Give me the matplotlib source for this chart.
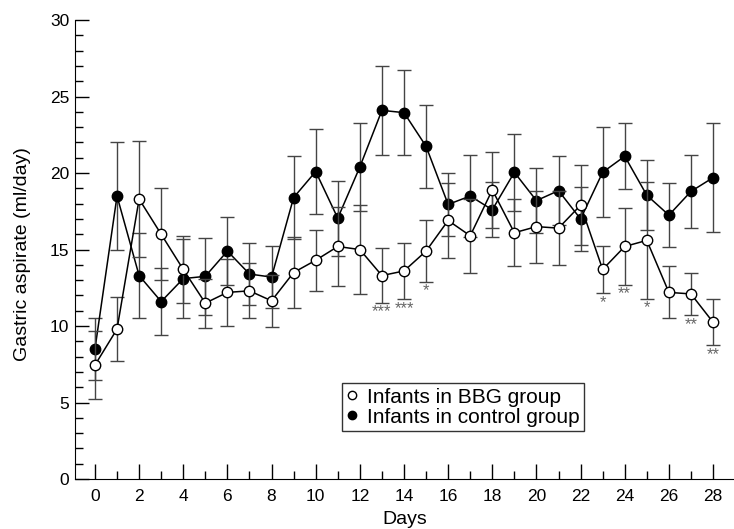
import matplotlib
matplotlib.use("Agg")
import matplotlib.pyplot as plt
from matplotlib.lines import Line2D
from matplotlib.ticker import MultipleLocator

plt.rcParams["font.family"] = ["Liberation Sans", "DejaVu Sans"]

days = list(range(29))

# Infants in BBG group (open circles): mean and SEM
bbg = [7.45, 9.8, 18.3, 16.0, 13.7, 11.5, 12.2, 12.3, 11.65, 13.5, 14.3, 15.2,
       15.0, 13.3, 13.6, 14.9, 16.9, 15.9, 18.9, 16.1, 16.5, 16.4, 17.9, 13.7,
       15.2, 15.6, 12.2, 12.1, 10.25]
bbg_err = [2.2, 2.1, 3.8, 3.0, 2.2, 1.6, 2.2, 1.8, 1.7, 2.3, 2.0, 2.6, 2.9,
           1.8, 1.85, 2.0, 2.45, 2.4, 2.5, 2.2, 2.35, 2.4, 2.6, 1.55, 2.5,
           3.8, 1.7, 1.4, 1.5]

# Infants in control group (filled circles)
ctrl = [8.5, 18.5, 13.3, 11.6, 13.1, 13.25, 14.9, 13.4, 13.2, 18.4, 20.1, 17.05,
        20.4, 24.1, 23.95, 21.75, 17.95, 18.5, 17.6, 20.05, 18.2, 18.85, 17.0,
        20.05, 21.1, 18.55, 17.25, 18.8, 19.7]
ctrl_err = [2.0, 3.55, 2.8, 2.2, 2.6, 2.5, 2.2, 2.0, 2.0, 2.7, 2.75, 2.45, 2.9,
            2.9, 2.8, 2.7, 2.05, 2.7, 1.8, 2.5, 2.1, 2.25, 2.1, 2.95, 2.15,
            2.3, 2.1, 2.4, 3.55]

# significance marks under the BBG error bars
star_days = [13, 14, 15, 23, 24, 25, 27, 28]
star_marks = ["***", "***", "*", "*", "**", "*", "**", "**"]

fig = plt.figure(figsize=(7.34, 5.29), dpi=100)
ax = fig.add_axes([0.102, 0.0945, 0.898, 0.8675])

err_kw = dict(ecolor="#444444", elinewidth=1.0, capsize=5, capthick=1.0)
ax.errorbar(days, ctrl, yerr=ctrl_err, fmt="-o", color="black", lw=1.1,
            ms=7.5, mfc="black", mec="black", zorder=3, **err_kw)
ax.errorbar(days, bbg, yerr=bbg_err, fmt="-o", color="black", lw=1.1,
            ms=7.5, mfc="white", mec="black", mew=1.0, zorder=4, **err_kw)

for d, m in zip(star_days, star_marks):
    low = bbg[d] - bbg_err[d]
    ax.text(d, low - 0.1, m, ha="center", va="top", fontsize=12,
            color="#666666")

ax.set_xlim(-0.91, 28.95)
ax.set_ylim(0, 30)
ax.xaxis.set_major_locator(MultipleLocator(2))
ax.xaxis.set_minor_locator(MultipleLocator(1))
ax.yaxis.set_major_locator(MultipleLocator(5))
ax.yaxis.set_minor_locator(MultipleLocator(1))
ax.tick_params(which="major", direction="in", length=10, width=1.0,
               labelsize=12.5, pad=4)
ax.tick_params(axis="x", which="major", length=11, pad=7)
ax.tick_params(which="minor", direction="in", length=5.5, width=1.0)
ax.spines["top"].set_visible(False)
ax.spines["right"].set_visible(False)
ax.set_xlabel("Days", fontsize=14, labelpad=5)
ax.set_ylabel("Gastric aspirate (ml/day)", fontsize=14)
ax.yaxis.set_label_coords(-0.067, 0.49)

handles = [
    Line2D([], [], ls="none", marker="o", ms=6, mfc="white", mec="black"),
    Line2D([], [], ls="none", marker="o", ms=6, mfc="black", mec="black"),
]
leg = ax.legend(handles, ["Infants in BBG group", "Infants in control group"],
                loc="lower left", bbox_to_anchor=(0.405, 0.105), fontsize=15,
                frameon=True, fancybox=False, edgecolor="black",
                handlelength=0.6, handletextpad=0.4, borderpad=0.2,
                labelspacing=0.05, borderaxespad=0)
leg.get_frame().set_linewidth(1.0)

fig.savefig("out.png", dpi=100)
